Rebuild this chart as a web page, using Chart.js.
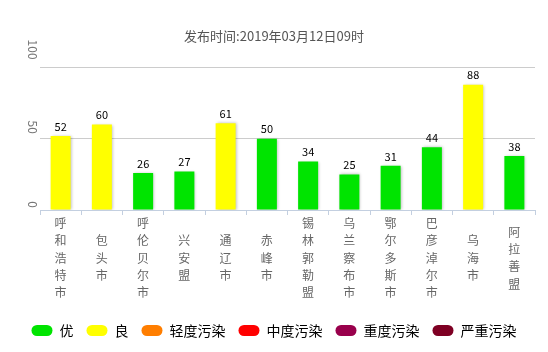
<!DOCTYPE html>
<html>
<head>
<meta charset="utf-8">
<script src="https://cdn.jsdelivr.net/npm/chart.js@4/dist/chart.umd.min.js"></script>
<style>
  html, body { margin: 0; padding: 0; background: #fff; }
  #wrap { width: 548px; height: 352px; }
</style>
</head>
<body>
<div id="wrap"><canvas id="aqiChart"></canvas></div>
<script>
// 城市与AQI
const cities = ["呼和浩特市", "包头市", "呼伦贝尔市", "兴安盟", "通辽市", "赤峰市",
  "锡林郭勒盟", "乌兰察布市", "鄂尔多斯市", "巴彦淖尔市", "乌海市", "阿拉善盟"];
const aqi = [52, 60, 26, 27, 61, 50, 34, 25, 31, 44, 88, 38];

// 等级
const levelNames = ["优", "良", "轻度污染", "中度污染", "重度污染", "严重污染"];
const levelColors = ["#00e400", "#ffff00", "#ff7e00", "#ff0000", "#99004c", "#7e0023"];
const levelMax = [50, 100, 150, 200, 300, 500];

const yTicks = [0, 50, 100];
const titleText = "发布时间:2019年03月12日09时";
const FONT = "'Noto Sans CJK SC', 'Noto Sans', sans-serif";

function levelColor(v) {
  for (let i = 0; i < levelMax.length; i++) {
    if (v <= levelMax[i]) return levelColors[i];
  }
  return levelColors[levelColors.length - 1];
}

// 柱子阴影
const barShadow = {
  id: 'barShadow',
  beforeDatasetDraw(chart) {
    const ctx = chart.ctx;
    ctx.save();
    ctx.shadowColor = 'rgba(0,0,0,0.28)';
    ctx.shadowBlur = 3;
    ctx.shadowOffsetX = 1;
    ctx.shadowOffsetY = 0;
  },
  afterDatasetDraw(chart) {
    chart.ctx.restore();
  }
};

// 数值标签、竖排y轴刻度、竖排城市名
const labelsPlugin = {
  id: 'labelsPlugin',
  afterDatasetsDraw(chart) {
    const ctx = chart.ctx;
    const meta = chart.getDatasetMeta(0);
    ctx.save();
    ctx.font = '11px ' + FONT;
    ctx.fillStyle = '#000';
    ctx.textAlign = 'center';
    ctx.textBaseline = 'bottom';
    meta.data.forEach((bar, i) => {
      ctx.fillText(String(aqi[i]), bar.x, bar.y - 4);
    });

    const y = chart.scales.y;
    ctx.font = '12px ' + FONT;
    ctx.fillStyle = '#777';
    ctx.textAlign = 'right';
    ctx.textBaseline = 'middle';
    yTicks.forEach(t => {
      const s = String(t);
      ctx.save();
      ctx.translate(32.5, y.getPixelForValue(t) - (2 + 3 * (s.length - 1)));
      ctx.rotate(Math.PI / 2);
      ctx.fillText(s, 0, 0);
      ctx.restore();
    });

    const x = chart.scales.x;
    ctx.font = '12px ' + FONT;
    ctx.fillStyle = '#666';
    ctx.textAlign = 'center';
    ctx.textBaseline = 'middle';
    const lineH = 17.3;
    const midY = x.top + 48;
    cities.forEach((c, i) => {
      const chars = c.split('');
      const cx = x.getPixelForTick(i);
      chars.forEach((ch, j) => {
        ctx.fillText(ch, cx, midY + (j - (chars.length - 1) / 2) * lineH);
      });
    });
    ctx.restore();
  }
};

const ctx = document.getElementById('aqiChart').getContext('2d');
const chart = new Chart(ctx, {
  type: 'bar',
  data: {
    labels: cities,
    datasets: [{
      label: 'AQI',
      data: aqi,
      backgroundColor: aqi.map(levelColor),
      borderWidth: 0,
      categoryPercentage: 1,
      barPercentage: 0.485
    }]
  },
  options: {
    responsive: true,
    maintainAspectRatio: false,
    animation: false,
    layout: { padding: { left: 0, right: 0, top: 0, bottom: 4.5 } },
    scales: {
      x: {
        afterFit: s => { s.height = 100.5; },
        grid: { offset: true, drawOnChartArea: false, drawTicks: true, tickLength: 5, color: '#c3cfe0' },
        border: { color: '#c3cfe0' },
        ticks: { display: false, autoSkip: false }
      },
      y: {
        min: 0,
        max: 100,
        afterFit: s => { s.width = 40; },
        ticks: { display: false, stepSize: 50 },
        grid: { color: '#cccccc', drawTicks: false },
        border: { display: false }
      },
      y2: {
        position: 'right',
        afterFit: s => { s.width = 13; },
        ticks: { display: false },
        grid: { display: false },
        border: { display: false }
      }
    },
    plugins: {
      title: {
        display: true,
        text: titleText,
        color: '#555',
        font: { family: FONT, size: 13, weight: 'normal' },
        padding: { top: 28, bottom: 24 }
      },
      legend: {
        position: 'bottom',
        onClick: null,
        labels: {
          boxWidth: 21,
          boxHeight: 11,
          useBorderRadius: true,
          borderRadius: 5.5,
          padding: 13,
          color: '#333',
          font: { family: FONT, size: 14 },
          generateLabels: () => levelNames.map((n, i) => ({
            text: n,
            fillStyle: levelColors[i],
            strokeStyle: levelColors[i],
            lineWidth: 0,
            borderRadius: 5.5,
            hidden: false,
            datasetIndex: 0
          }))
        }
      },
      tooltip: { enabled: false }
    }
  },
  plugins: [barShadow, labelsPlugin]
});
</script>
</body>
</html>
